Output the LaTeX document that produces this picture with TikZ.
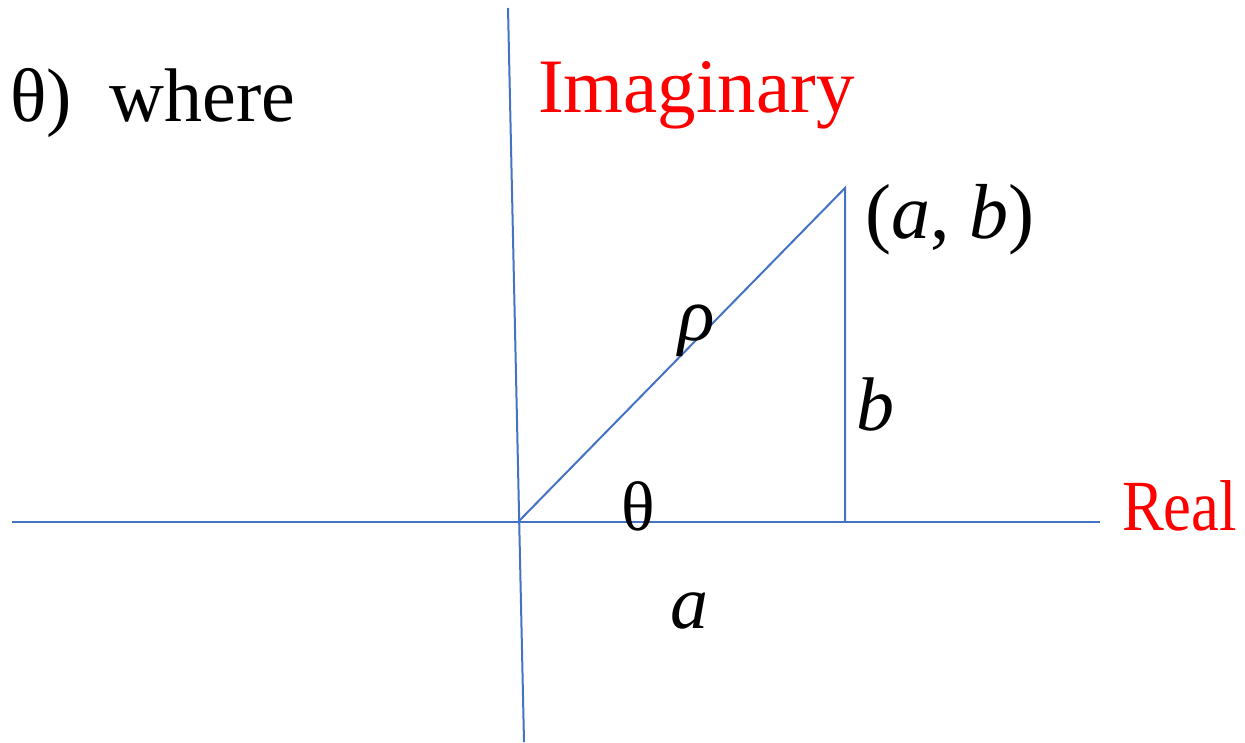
\documentclass[tikz,border=0pt]{standalone}
\usepackage{fontspec}
\setmainfont{Liberation Serif}
\newfontfamily\lserif{Liberation Serif}
\definecolor{axisblue}{HTML}{4472C4}
\definecolor{lblred}{HTML}{FF0000}
\tikzset{
  axis/.style={draw=axisblue, line width=2pt},
  big/.style={inner sep=0pt, font=\fontsize{76}{80}\lserif},
  redlbl/.style={big, text=lblred},
}
\begin{document}
\begin{tikzpicture}[x=1pt,y=-1pt]
\useasboundingbox (0,0) rectangle (1245,742);
% coordinates
\coordinate (vtop) at (508,8);
\coordinate (vbot) at (524,742);
\coordinate (hleft) at (12,522);
\coordinate (hright) at (1100,522);
\coordinate (O) at (518,522);
\coordinate (P) at (845,188);
\coordinate (Q) at (845,522);
% axes and triangle
\draw[axis] (vtop) -- (vbot);
\draw[axis] (hleft) -- (hright);
\draw[axis] (O) -- (P) -- (Q);
% texts
\node[big, anchor=base west] (where) at (10,121) {θ)\ \ where};
\node[redlbl, anchor=base west, font=\fontsize{77}{80}\lserif] (imag) at (538,112) {Imaginary};
\node[redlbl, anchor=base west, font=\fontsize{72}{74}\lserif, xscale=0.87] (real) at (1122,530) {Real};
\node[big, anchor=base west, font=\fontsize{78}{80}\lserif] (ab) at (865,238) {(\textit{a}, \textit{b})};
\node[big, anchor=base west] (rho) at (678,340) {\textit{ρ}};
\node[big, anchor=base west] (bl) at (856,430) {\textit{b}};
\node[big, anchor=base west, font=\fontsize{70}{74}\lserif] (th) at (621,530) {θ};
\node[big, anchor=base west] (al) at (670,628) {\textit{a}};
\end{tikzpicture}
\end{document}
